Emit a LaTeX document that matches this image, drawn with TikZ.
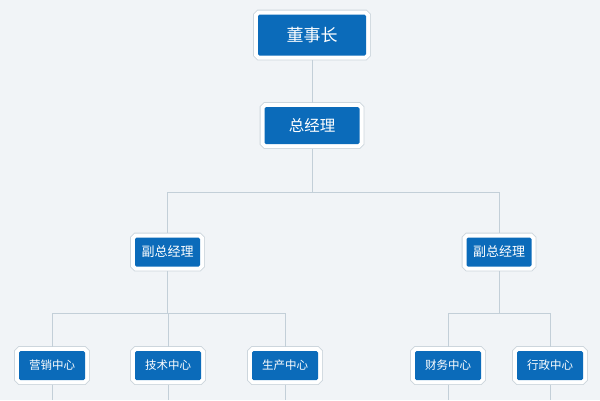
\documentclass[tikz,border=0pt]{standalone}
\usepackage{fontspec}
\newfontfamily\cjk{Noto Sans CJK SC}
\definecolor{bgray}{HTML}{F1F4F7}
\definecolor{boxblue}{HTML}{0B6BBA}
\definecolor{framegray}{HTML}{CDD6DD}
\definecolor{linegray}{HTML}{C3CFD8}
\newcommand{\fsz}[1]{\cjk\fontsize{#1}{#1}\selectfont}

\begin{document}
\begin{tikzpicture}[x=1pt,y=-1pt,
	box/.style={fill=boxblue, text=white, rounded corners=1.5pt, inner sep=0pt, outer sep=4.5pt,
		preaction={draw=framegray, line width=9.6pt}, preaction={draw=white, line width=8pt}},
	boss/.style={box, minimum width=108pt, minimum height=41pt, font=\fsz{17}},
	head/.style={box, minimum width=95pt, minimum height=37pt, font=\fsz{15.5}},
	vice/.style={box, minimum width=65pt, minimum height=29pt, font=\fsz{13}},
	dept/.style={box, minimum width=66pt, minimum height=29pt, font=\fsz{11.5}},
	link/.style={draw=linegray, line width=0.8pt}]
	\useasboundingbox (0,0) rectangle (600,400);
	\fill[bgray] (0,0) rectangle (600,400);

	% top
	\node[boss] (dsz) at (312,35) {董事长};
	\node[head] (zjl) at (312,125.5) {总经理};

	% vice managers
	\node[vice] (fzl1) at (167.5,252) {副总经理};
	\node[vice] (fzl2) at (499,252) {副总经理};

	% departments
	\node[dept] (yx) at (52,365.5) {营销中心};
	\node[dept] (js) at (168,365.5) {技术中心};
	\node[dept] (sc) at (285,365.5) {生产中心};
	\node[dept] (cw) at (448,365.5) {财务中心};
	\node[dept] (xz) at (550,365.5) {行政中心};

	\coordinate (fork1) at (312,192);
	\coordinate (fork2) at (167.5,313);
	\coordinate (fork3) at (499,313);
	\coordinate (bottom) at (0,400);

	\draw[link] (dsz) -- (zjl);
	\draw[link] (zjl) -- (fork1);
	\draw[link] (fork1) -| (fzl1);
	\draw[link] (fork1) -| (fzl2);

	\draw[link] (fzl1) -- (fork2);
	\draw[link] (fork2) -| (yx);
	\draw[link] (fork2) -| (js);
	\draw[link] (fork2) -| (sc);

	\draw[link] (fzl2) -- (fork3);
	\draw[link] (fork3) -| (cw);
	\draw[link] (fork3) -| (xz);

	\foreach \n in {yx,js,sc,cw,xz}
		\draw[link] (\n) -- (\n |- bottom);
\end{tikzpicture}
\end{document}
